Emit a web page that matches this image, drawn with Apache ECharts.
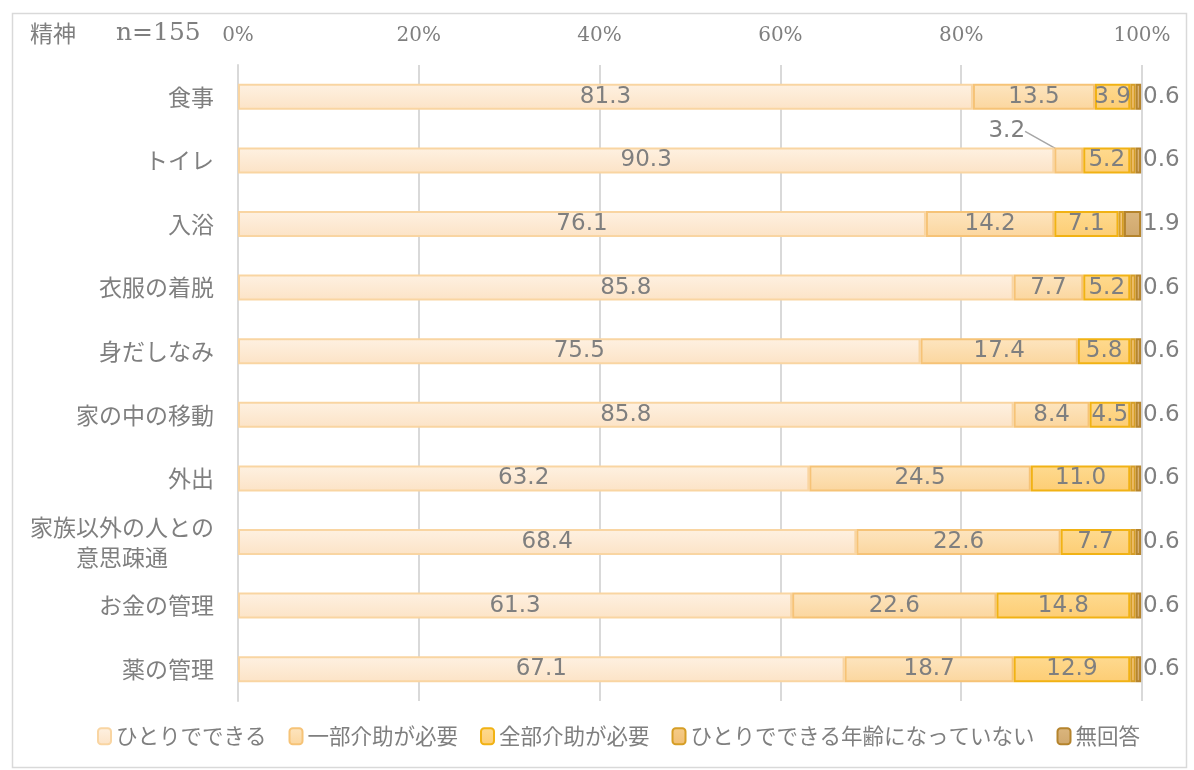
<!DOCTYPE html>
<html>
<head>
<meta charset="utf-8">
<script src="https://cdn.jsdelivr.net/npm/echarts@6/dist/echarts.min.js"></script>
<style>
  html, body { margin: 0; padding: 0; background: #fff; }
  #chart { width: 1194px; height: 770px; }
</style>
</head>
<body>
<div id="chart"></div>
<script>
const categories = ["食事", "トイレ", "入浴", "衣服の着脱", "身だしなみ", "家の中の移動", "外出", "家族以外の人との\n意思疎通", "お金の管理", "薬の管理"];
const seriesNames = ["ひとりでできる", "一部介助が必要", "全部介助が必要", "ひとりでできる年齢になっていない", "無回答"];
const alone = [81.3, 90.3, 76.1, 85.8, 75.5, 85.8, 63.2, 68.4, 61.3, 67.1];
const partHelp = [13.5, 3.2, 14.2, 7.7, 17.4, 8.4, 24.5, 22.6, 22.6, 18.7];
const fullHelp = [3.9, 5.2, 7.1, 5.2, 5.8, 4.5, 11.0, 7.7, 14.8, 12.9];
const notAge = [0.6, 0.6, 0.6, 0.6, 0.6, 0.6, 0.6, 0.6, 0.6, 0.6];
const noAnswer = [0.6, 0.6, 1.9, 0.6, 0.6, 0.6, 0.6, 0.6, 0.6, 0.6];
const xTicks = [0, 20, 40, 60, 80, 100];

const labelColor = "#7f7f7f";
const numFont = "'DejaVu Sans', 'Noto Sans CJK JP', sans-serif";
const serifFont = "'DejaVu Serif', 'Liberation Serif', serif";
const jpFont = "'Noto Sans CJK JP', sans-serif";

function grad(top, bottom) {
  return new echarts.graphic.LinearGradient(0, 0, 0, 1, [
    { offset: 0, color: top },
    { offset: 1, color: bottom },
  ]);
}

const styles = [
  { color: grad("#fef1e2", "#fce3c6"), borderColor: "#f9d5a2" },
  { color: grad("#fde5c0", "#fbd69e"), borderColor: "#f6c377" },
  { color: grad("#feda90", "#fdcd74"), borderColor: "#f1b214" },
  { color: grad("#f6cc88", "#f1bf74"), borderColor: "#d69e26" },
  { color: grad("#dbb67e", "#d0a86d"), borderColor: "#b5842d" },
];

const dataLabel = {
  show: true,
  position: "inside",
  color: labelColor,
  fontSize: 23,
  fontFamily: numFont,
  formatter: (p) => p.value.toFixed(1),
};

function makeSeries(idx, values, label) {
  return {
    name: seriesNames[idx],
    type: "bar",
    stack: "total",
    barWidth: 26,
    data: values,
    itemStyle: {
      color: styles[idx].color,
      borderColor: styles[idx].borderColor,
      borderWidth: 2,
    },
    label: label,
    emphasis: { disabled: true },
  };
}

// トイレの「一部介助が必要」3.2 は引き出し線付きで外に出す
const partData = partHelp.map((v, i) =>
  i === 1
    ? { value: v, labelLine: { show: true, lineStyle: { color: "#a6a6a6", width: 1.5 } } }
    : v
);

const chart = echarts.init(document.getElementById("chart"));
chart.setOption({
  animation: false,
  graphic: [
    {
      type: "rect",
      left: 10,
      top: 11,
      shape: { width: 1174, height: 754 },
      style: { fill: "none", stroke: "#d9d9d9", lineWidth: 1.5 },
      silent: true,
    },
    {
      type: "text",
      left: 30,
      top: 21,
      style: {
        text: "{a|精神}{b|n=155}",
        rich: {
          a: { fontSize: 23, fontFamily: jpFont, fill: labelColor, padding: [0, 40, 0, 0] },
          b: { fontSize: 25, fontFamily: serifFont, fill: labelColor },
        },
      },
    },
  ],
  legend: {
    bottom: 18,
    left: 92,
    itemWidth: 13,
    itemHeight: 16,
    itemGap: 22,
    textStyle: { color: labelColor, fontSize: 21.5, fontFamily: jpFont },
    data: seriesNames,
  },
  grid: { left: 238, right: 52, top: 65, bottom: 69 },
  xAxis: {
    type: "value",
    position: "top",
    min: 0,
    max: 100,
    interval: 20,
    axisLine: { show: false },
    axisTick: { show: false },
    axisLabel: {
      color: labelColor,
      fontSize: 20,
      fontFamily: serifFont,
      margin: 19,
      formatter: (v) => (xTicks.includes(v) ? v + "%" : ""),
    },
    splitLine: { lineStyle: { color: "#d9d9d9", width: 2 } },
  },
  yAxis: {
    type: "category",
    inverse: true,
    data: categories.map((c, i) =>
      i === 7
        ? { value: c, textStyle: { align: "center", padding: [0, 184, 0, 0], lineHeight: 30 } }
        : c
    ),
    axisLine: { lineStyle: { color: "#d9d9d9", width: 2 } },
    axisTick: { show: false },
    axisLabel: {
      color: labelColor,
      fontSize: 23,
      fontFamily: jpFont,
      margin: 24,
    },
  },
  series: [
    makeSeries(0, alone, dataLabel),
    Object.assign(makeSeries(1, partData, dataLabel), {
      labelLayout: (p) =>
        p.dataIndex === 1 ? { dx: -62, dy: -29 } : {},
    }),
    makeSeries(2, fullHelp, dataLabel),
    makeSeries(3, notAge, { show: false }),
    makeSeries(4, noAnswer, Object.assign({}, dataLabel, { position: "right", distance: 2 })),
  ],
});
</script>
</body>
</html>
